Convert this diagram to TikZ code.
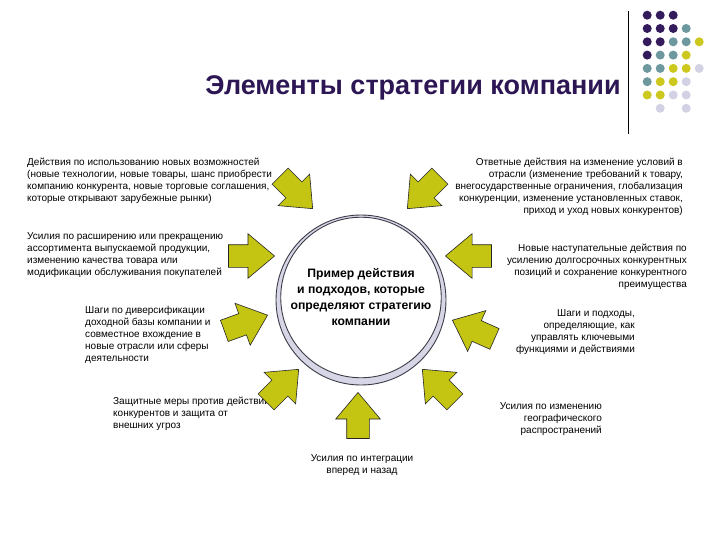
\documentclass[tikz,border=0pt]{standalone}
\usepackage{fontspec}
\setmainfont{Liberation Sans}
\usetikzlibrary{shapes.arrows}

\definecolor{titleviolet}{RGB}{44,22,84}
\definecolor{arrowolive}{RGB}{196,196,18}
\definecolor{dotviolet}{RGB}{52,28,92}
\definecolor{dotteal}{RGB}{108,152,158}
\definecolor{dotyellow}{RGB}{204,200,30}
\definecolor{dotlilac}{RGB}{210,210,228}
\definecolor{ringfill}{RGB}{214,214,230}
\definecolor{ringline}{RGB}{60,60,72}

\tikzset{
  pointer/.style={single arrow, draw=black!85, fill=arrowolive, line width=0.6pt,
    minimum height=46pt, single arrow head extend=11pt,
    single arrow tip angle=80, inner xsep=0pt, inner ysep=11pt, anchor=tip},
  note/.style={font=\fontsize{10}{12}\selectfont, inner sep=0pt},
  pdot/.style={fill=dotviolet},
  tdot/.style={fill=dotteal},
  ydot/.style={fill=dotyellow},
  ldot/.style={fill=dotlilac},
}

\begin{document}
\begin{tikzpicture}[x=1pt,y=-1pt]
    \useasboundingbox[fill=white] (0,0) rectangle (720,540);

    % title and corner decoration
    \node[font=\fontsize{27}{32}\bfseries\selectfont, text=titleviolet] (title) at (413,88)
        {Элементы стратегии компании};
    \draw[line width=0.8pt] (628,11) -- (628,134);
    \matrix (dots) [anchor=north west, inner sep=0pt, row sep=4.3pt, column sep=4pt,
        nodes={circle, minimum size=9pt, inner sep=0pt}] at (642.5,10.5) {
    \node[pdot] {}; & \node[pdot] {}; & \node[pdot] {}; & & \\
    \node[pdot] {}; & \node[pdot] {}; & \node[pdot] {}; & \node[tdot] {}; & \\
    \node[pdot] {}; & \node[pdot] {}; & \node[tdot] {}; & \node[tdot] {}; & \node[ydot] {};\\
    \node[pdot] {}; & \node[tdot] {}; & \node[tdot] {}; & \node[ydot] {}; & \\
    \node[tdot] {}; & \node[tdot] {}; & \node[ydot] {}; & \node[ydot] {}; & \node[ldot] {};\\
    \node[tdot] {}; & \node[ydot] {}; & \node[ydot] {}; & \node[ldot] {}; & \\
    \node[ydot] {}; & \node[ydot] {}; & \node[ldot] {}; & \node[ldot] {}; & \\
    & \node[ldot] {}; & & \node[ldot] {}; & \\
    };

    % central ring
    \node[circle, minimum size=170pt, draw=ringline, fill=ringfill, line width=0.9pt] (hub) at (361,300) {};
    \node[circle, minimum size=150pt, draw=ringline, fill=white, line width=0.9pt,
        font=\fontsize{12.2}{16}\bfseries\selectfont, align=center] (core) at (361,297.5) {Пример действия\\и подходов, которые\\определяют стратегию\\компании};

    % descriptions
    \node[note, anchor=north west, align=left] (opport) at (27,158) {Действия по использованию новых возможностей\\(новые технологии, новые товары, шанс приобрести\\компанию конкурента, новые торговые соглашения,\\которые открывают зарубежные рынки)};
    \node[note, anchor=north west, align=left] (range) at (27,232) {Усилия по расширению или прекращению\\ассортимента выпускаемой продукции,\\изменению качества товара или\\модификации обслуживания покупателей};
    \node[note, anchor=north west, align=left] (divers) at (85,306) {Шаги по диверсификации\\доходной базы компании и\\совместное вхождение в\\новые отрасли или сферы\\деятельности};
    \node[note, anchor=north east, align=right] (respond) at (683,158) {Ответные действия на изменение условий в\\отрасли (изменение требований к товару,\\внегосударственные ограничения, глобализация\\конкуренции, изменение установленных ставок,\\приход и уход новых конкурентов)};
    \node[note, anchor=north east, align=right] (attack) at (687,244) {Новые наступательные действия по\\усилению долгосрочных конкурентных\\позиций и сохранение конкурентного\\преимущества};
    \node[note, anchor=north east, align=right] (manage) at (635,309) {Шаги и подходы,\\определяющие, как\\управлять ключевыми\\функциями и действиями};
    \node[note, anchor=north west, align=left] (defend) at (113,397) {Защитные меры против действий\\конкурентов и защита от\\внешних угроз};
    \node[note, anchor=north east, align=right] (geo) at (602,402) {Усилия по изменению\\географического\\распространений};
    \node[note, anchor=north, align=center] (integr) at (362,454) {Усилия по интеграции\\вперед и назад};

    % arrows toward the ring, placed by their tips
    \node[pointer, rotate=-45] (a1) at (313,209) {};
    \node[pointer, rotate=-135] (a2) at (407,209) {};
    \node[pointer] (a3) at (275,256) {};
    \node[pointer, rotate=20] (a4) at (268,315) {};
    \node[pointer, rotate=180] (a5) at (445,256) {};
    \node[pointer, rotate=156] (a6) at (452,320) {};
    \node[pointer, rotate=45] (a7) at (299,369) {};
    \node[pointer, rotate=135] (a8) at (422,369) {};
    \node[pointer, rotate=90] (a9) at (358,392) {};
\end{tikzpicture}
\end{document}
